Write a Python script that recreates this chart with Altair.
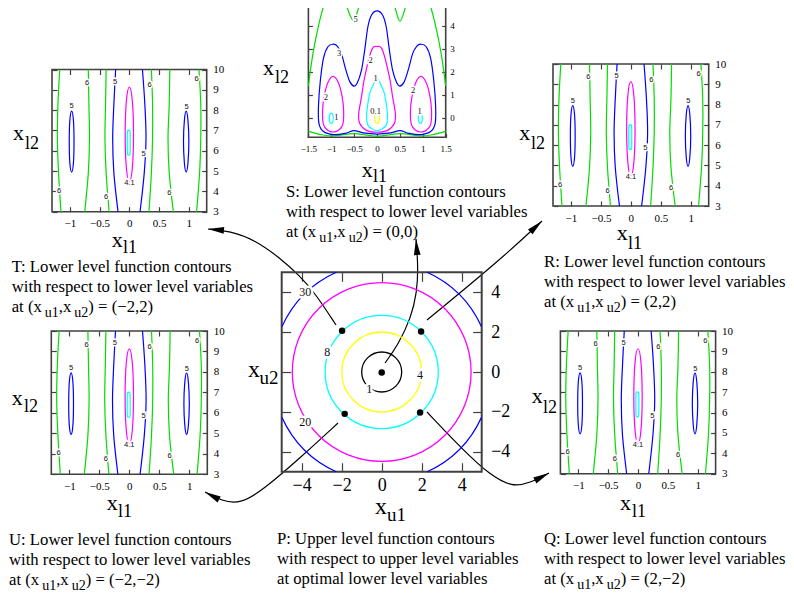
import math
import altair as alt
import pandas as pd

M = 8
W, H = 778, 584
SERIF = "Liberation Serif"
SANS = "Liberation Sans"
BLUE, GREEN, MAGENTA, CYAN, YELLOW = "#0000ff", "#00dd00", "#ff00ff", "#00ffff", "#ffff00"
FRAME = "#404040"

# ---------------- P : upper level contours ----------------
P_LEVELS = ["1", "4", "8", "20", "30"]
P_RADII = [1.0, 2.0, 2.83, 4.47, 5.48]
P_COLORS = ["black", YELLOW, CYAN, MAGENTA, BLUE]
P_SPANS = [[(0, 360)], [(0, 360)], [(0, 360)], [(0, 360)],
           [(24.5, 65.5), (114.5, 155.5), (204.5, 245.5), (294.5, 335.5)]]
P_LABEL_X = [-0.62, 1.92, -2.72, -3.82, -3.82]
P_LABEL_Y = [-0.84, -0.13, 1.02, -2.49, 4.02]
P_DOT_X = [-1.98, 1.97, 0.0, -1.85, 1.92]
P_DOT_Y = [2.07, 2.03, -0.03, -2.10, -2.03]

# ---------------- T, R, U, Q : lower level contours (x_u != 0) ----------------
LL_Y_OPEN = [10.0, 8.3, 6.6, 4.9, 3.0]
LL_GREEN_X = [[-1.17, -1.20, -1.21, -1.19, -1.15],
              [-0.69, -0.68, -0.67, -0.69, -0.75],
              [-0.39, -0.40, -0.41, -0.39, -0.34],
              [0.37, 0.39, 0.39, 0.37, 0.33],
              [0.68, 0.67, 0.65, 0.67, 0.74],
              [1.17, 1.20, 1.20, 1.18, 1.13]]
LL_BLUE_X = [[-0.23, -0.26, -0.28, -0.26, -0.19],
             [0.22, 0.26, 0.28, 0.25, 0.18]]
LL_BLUE_L_X = [-0.97, -0.94, -0.93, -0.94, -0.97, -1.00, -1.01, -1.00]
LL_BLUE_R_X = [0.955, 0.985, 1.00, 0.985, 0.955, 0.925, 0.91, 0.925]
LL_BLUE_E_Y = [7.95, 7.5, 6.45, 5.4, 4.95, 5.4, 6.45, 7.5]
LL_MAG_X = [0.0, 0.05, 0.07, 0.05, 0.0, -0.05, -0.07, -0.05]
LL_MAG_Y = [9.13, 8.45, 6.8, 5.15, 4.47, 5.15, 6.8, 8.45]
LL_CYAN_X = [-0.01, 0.012, 0.015, 0.012, -0.01, -0.032, -0.035, -0.032]
LL_CYAN_Y = [7.0, 6.95, 6.4, 5.85, 5.8, 5.85, 6.4, 6.95]
LL_LABEL_T = ["6", "6", "6", "6", "6", "6", "5", "5", "5", "5", "4.1"]
LL_LABEL_X = [-0.71, 0.34, 1.13, -1.18, -0.39, 0.67, -0.24, 0.24, -0.97, 0.96, 0.0]
LL_LABEL_Y = [9.34, 9.22, 9.51, 4.04, 3.74, 3.91, 9.39, 5.85, 8.19, 8.16, 4.43]

# ---------------- S : lower level contours at (0,0) ----------------
S_YELLOW_X = [0.0, 0.04, 0.058, 0.04, 0.0, -0.04, -0.058, -0.04]
S_YELLOW_Y = [0.34, 0.26, 0.05, -0.16, -0.24, -0.16, 0.05, 0.26]
S_CYAN_MID_X = [0.0, 0.07, 0.16, 0.21, 0.23, 0.20, 0.10, 0.0, -0.10, -0.20, -0.23, -0.21, -0.16, -0.07]
S_CYAN_MID_Y = [1.72, 1.49, 1.06, 0.48, 0.04, -0.32, -0.50, -0.56, -0.50, -0.32, 0.04, 0.48, 1.06, 1.49]
S_CYAN_L_X = [-1.0, -0.968, -0.955, -0.968, -1.0, -1.032, -1.045, -1.032]
S_CYAN_R_X = [0.945, 0.977, 0.99, 0.977, 0.945, 0.913, 0.90, 0.913]
S_CYAN_E_Y = [0.20, 0.14, -0.02, -0.18, -0.24, -0.18, -0.02, 0.14]
S_MAG_MID_X = [0.0, 0.12, 0.27, 0.34, 0.40, 0.38, 0.23, 0.0, -0.23, -0.38, -0.40, -0.34, -0.27, -0.12]
S_MAG_MID_Y = [3.10, 2.94, 1.78, 0.91, 0.19, -0.24, -0.55, -0.63, -0.55, -0.24, 0.19, 0.91, 1.78, 2.94]
S_MAG_L_X = [-0.96, -0.85, -0.77, -0.73, -0.75, -0.85, -0.96, -1.07, -1.17, -1.19, -1.15, -1.07]
S_MAG_R_X = [0.96, 1.07, 1.15, 1.19, 1.17, 1.07, 0.96, 0.85, 0.75, 0.73, 0.77, 0.85]
S_MAG_SIDE_Y = [1.80, 1.55, 1.00, 0.33, -0.30, -0.55, -0.62, -0.55, -0.30, 0.33, 1.00, 1.55]
S_BLUE_X = [0.0, -0.12, -0.20, -0.27, -0.34, -0.43, -0.50, -0.59, -0.68, -0.78, -0.87, -0.96, -1.07,
            -1.17, -1.24, -1.28, -1.27, -1.17, -0.96, -0.70, -0.50, -0.30, 0.0, 0.30, 0.50, 0.70,
            0.96, 1.17, 1.27, 1.28, 1.24, 1.17, 1.07, 0.96, 0.87, 0.78, 0.68, 0.59, 0.50, 0.43,
            0.34, 0.27, 0.20, 0.12]
S_BLUE_Y = [4.65, 4.47, 3.96, 2.94, 2.07, 1.52, 1.38, 1.55, 2.07, 2.80, 3.12, 3.20, 3.10,
            2.60, 1.60, 0.50, -0.24, -0.60, -0.73, -0.68, -0.56, -0.66, -0.71, -0.66, -0.56, -0.68,
            -0.73, -0.60, -0.24, 0.50, 1.60, 2.60, 3.10, 3.20, 3.12, 2.80, 2.07, 1.55, 1.38, 1.52,
            2.07, 2.94, 3.96, 4.47]
S_GREEN_OPEN = [
    ([-1.50, -1.40, -1.27, -1.14], [1.38, 2.80, 4.09, 5.05]),
    ([1.50, 1.40, 1.27, 1.14], [1.38, 2.80, 4.09, 5.05]),
    ([-0.68, -0.62, -0.52, -0.43, -0.38], [5.05, 4.60, 4.25, 4.60, 5.05]),
    ([0.37, 0.42, 0.50, 0.59, 0.64], [5.05, 4.60, 4.20, 4.60, 5.05]),
    ([-1.50, -1.25, -0.96, -0.50, 0.0, 0.50, 0.96, 1.25, 1.50],
     [-0.59, -0.72, -0.79, -0.69, -0.80, -0.69, -0.79, -0.72, -0.59]),
]
S_LABEL_T = ["5", "3", "2", "2", "2", "1", "1", "1", "0.1"]
S_LABEL_X = [-0.47, -0.83, -0.14, -1.12, 0.79, -0.03, -0.89, 0.93, -0.03]
S_LABEL_Y = [4.28, 2.80, 2.51, 0.91, 1.20, 1.71, 0.04, 0.29, 0.29]

# ---------------- arrows (page pixel positions) ----------------
ARROWS = [
    [(336, 325), (315, 293), (300, 276), (280, 258), (255, 240), (230, 231), (208, 229)],
    [(385, 363), (398, 345), (411, 318), (417, 292), (418, 268), (417, 252), (416, 239)],
    [(427, 320), (500, 260), (542, 221)],
    [(338, 423), (300, 458), (263, 490), (240, 504), (222, 501), (205, 492)],
    [(427, 412), (463, 450), (490, 475), (512, 487), (530, 483), (549, 473)],
]

# ---------------- captions ----------------
CAPTIONS = [
    (11.7, 272.3, ["T: Lower level function contours", "with respect to lower level variables"], "(\u22122,2)"),
    (286.0, 197.3, ["S: Lower level function contours", "with respect to lower level variables"], "(0,0)"),
    (544.0, 267.3, ["R: Lower level function contours", "with respect to lower level variables"], "(2,2)"),
    (9.0, 545.0, ["U: Lower level function contours", "with respect to lower level variables"], "(\u22122,\u22122)"),
    (277.0, 544.0, ["P: Upper level function contours", "with respect to upper level variables",
                    "at optimal lower level variables"], None),
    (544.0, 544.0, ["Q: Lower level function contours", "with respect to lower level variables"], "(2,\u22122)"),
]
# axis titles: (x of "x", baseline, subscript, x of subscript, sub baseline, main size, sub size)
TITLES = [
    (13.0, 140.0, "l2", 25.0, 149.0, 22, 18), (111.7, 246.7, "l1", 123.0, 253.0, 22, 18),
    (519.3, 140.0, "l2", 531.0, 149.0, 22, 18), (616.7, 240.0, "l1", 628.0, 249.0, 22, 18),
    (11.7, 405.0, "l2", 24.0, 412.0, 22, 18), (106.7, 510.0, "l1", 118.0, 517.0, 22, 18),
    (531.7, 403.3, "l2", 543.0, 413.0, 22, 18), (620.0, 510.0, "l1", 632.0, 517.0, 22, 18),
    (263.0, 75.0, "l2", 275.0, 83.0, 22, 18), (361.7, 176.7, "l1", 373.0, 182.0, 22, 18),
    (248.0, 377.0, "u2", 259.5, 384.0, 24, 19), (375.0, 514.0, "u1", 387.0, 521.0, 24, 19),
]

TW = {' ': 250, 'a': 444, 't': 278, '(': 333, ')': 333, 'x': 500, 'u': 500, ',': 250,
      '=': 564, '0': 500, '1': 500, '2': 500, '\u2212': 564}


def tw(s, fs):
    return sum(TW.get(c, 500) for c in s) * fs / 1000.0


PX = alt.Scale(domain=[M, M + W], range=[0, W], nice=False, zero=False)
PY = alt.Scale(domain=[M, M + H], range=[0, H], nice=False, zero=False)


def curves_df(curves):
    rows = []
    for cid, (col, xs, ys) in enumerate(curves):
        for i, (x, y) in enumerate(zip(xs, ys)):
            rows.append(dict(cid=cid, o=i, x=x, y=y, col=col))
    return pd.DataFrame(rows)


def scales(box, xdom, ydom):
    l, t, r, b = box
    xs = alt.Scale(domain=xdom, range=[l - M, r - M], nice=False, zero=False)
    ys = alt.Scale(domain=ydom, range=[b - M, t - M], nice=False, zero=False)
    return xs, ys


def axes(box, xticks, yticks, ts, fs, lpx, lpy, xfmt="~g", yfmt="d"):
    l, t, r, b = [v - M for v in box]
    common = dict(domain=False, grid=False, tickSize=ts, tickColor=FRAME, tickWidth=1.2, title=None,
                  labelFont=SERIF, labelFontSize=fs, labelColor="black", labelFlush=False,
                  labelOverlap=False)
    ab = alt.Axis(orient="bottom", offset=b - ts - H, values=xticks, labelPadding=lpx, format=xfmt, **common)
    ar = alt.Axis(orient="right", offset=r - ts - W, values=yticks, labelPadding=lpy, format=yfmt,
                  labelAlign="left", labelBaseline="middle", **common)
    at = alt.Axis(orient="top", offset=-(t + ts), values=xticks, labels=False, **common)
    al = alt.Axis(orient="left", offset=-(l + ts), values=yticks, labels=False, **common)
    return ab, ar, at, al


def frame_layer(xdom, ydom, xs, ys, ab, ar, fw):
    df = pd.DataFrame({"x0": [xdom[0]], "x1": [xdom[1]], "y0": [ydom[0]], "y1": [ydom[1]]})
    return alt.Chart(df).mark_rect(fillOpacity=0, stroke=FRAME, strokeWidth=fw).encode(
        x=alt.X("x0:Q", scale=xs, axis=ab), x2="x1:Q",
        y=alt.Y("y0:Q", scale=ys, axis=ar), y2="y1:Q")


def line_layer(curves, xs, ys, interp, ax=None, ay=None, sw=1.2):
    return alt.Chart(curves_df(curves)).mark_line(interpolate=interp, strokeWidth=sw).encode(
        x=alt.X("x:Q", scale=xs, axis=ax), y=alt.Y("y:Q", scale=ys, axis=ay),
        detail="cid:N", order=alt.Order("o:Q"), color=alt.Color("col:N", scale=None))


def label_layers(texts, lx, ly, xs, ys, font, fs, halo):
    df = pd.DataFrame({"t": texts, "x": lx, "y": ly})
    base = alt.Chart(df).encode(x=alt.X("x:Q", scale=xs, axis=None),
                                y=alt.Y("y:Q", scale=ys, axis=None), text="t:N")
    h = base.mark_text(font=font, fontSize=fs, fill="white", stroke="white", strokeWidth=halo,
                       align="center", baseline="middle")
    t = base.mark_text(font=font, fontSize=fs, fill="#111111", align="center", baseline="middle")
    return [h, t]


def small_panel(box):
    xdom, ydom = [-1.3, 1.3], [3, 10]
    xs, ys = scales(box, xdom, ydom)
    ab, ar, at, al = axes(box, [-1, -0.5, 0, 0.5, 1], [3, 4, 5, 6, 7, 8, 9, 10], 5, 11, 6, 6)
    open_c = [(GREEN, gx, LL_Y_OPEN) for gx in LL_GREEN_X] + [(BLUE, bx, LL_Y_OPEN) for bx in LL_BLUE_X]
    closed_c = [(BLUE, LL_BLUE_L_X, LL_BLUE_E_Y), (BLUE, LL_BLUE_R_X, LL_BLUE_E_Y),
                (MAGENTA, LL_MAG_X, LL_MAG_Y), (CYAN, LL_CYAN_X, LL_CYAN_Y)]
    layers = [frame_layer(xdom, ydom, xs, ys, ab, ar, 1.6),
              line_layer(open_c, xs, ys, "cardinal", at, al),
              line_layer(closed_c, xs, ys, "cardinal-closed")]
    layers += label_layers(LL_LABEL_T, LL_LABEL_X, LL_LABEL_Y, xs, ys, SANS, 7.5, 3)
    return alt.layer(*layers).resolve_axis(x="independent", y="independent")


def s_panel():
    box = (308.4, 1.7, 445.7, 137.3)
    xdom, ydom = [-1.5, 1.5], [-0.85, 5.05]
    xs, ys = scales(box, xdom, ydom)
    ab, ar, at, al = axes(box, [-1.5, -1, -0.5, 0, 0.5, 1, 1.5], [0, 1, 2, 3, 4, 5], 4, 9, 7, 4)
    open_c = [(GREEN, gx, gy) for gx, gy in S_GREEN_OPEN]
    closed_c = [(BLUE, S_BLUE_X, S_BLUE_Y),
                (MAGENTA, S_MAG_MID_X, S_MAG_MID_Y), (MAGENTA, S_MAG_L_X, S_MAG_SIDE_Y),
                (MAGENTA, S_MAG_R_X, S_MAG_SIDE_Y),
                (CYAN, S_CYAN_MID_X, S_CYAN_MID_Y), (CYAN, S_CYAN_L_X, S_CYAN_E_Y),
                (CYAN, S_CYAN_R_X, S_CYAN_E_Y), (YELLOW, S_YELLOW_X, S_YELLOW_Y)]
    layers = [frame_layer(xdom, ydom, xs, ys, ab, ar, 1.6),
              line_layer(open_c, xs, ys, "cardinal", at, al),
              line_layer(closed_c, xs, ys, "cardinal-closed")]
    layers += label_layers(S_LABEL_T, S_LABEL_X, S_LABEL_Y, xs, ys, SERIF, 8.5, 3)
    return alt.layer(*layers).resolve_axis(x="independent", y="independent")


def p_panel():
    box = (281.7, 272.3, 481.7, 471.7)
    xdom, ydom = [-5, 5], [-5, 5]
    xs, ys = scales(box, xdom, ydom)
    ab, ar, at, al = axes(box, [-4, -2, 0, 2, 4], [-4, -2, 0, 2, 4], 9, 18, 5, 9, xfmt="d")
    rows = []
    for r, col, spans in zip(P_RADII, P_COLORS, P_SPANS):
        for a0, a1 in spans:
            rows.append(dict(cx=0.0, cy=0.0, r=r, t0=math.radians(a0), t1=math.radians(a1), col=col))
    arcs = alt.Chart(pd.DataFrame(rows)).mark_arc(filled=False, strokeWidth=1.3).encode(
        x=alt.X("cx:Q", scale=xs, axis=None), y=alt.Y("cy:Q", scale=ys, axis=None),
        theta=alt.Theta("t0:Q", scale=None, stack=None), theta2="t1:Q",
        radius=alt.Radius("r:Q", scale=alt.Scale(type="linear", domain=[0, 5], range=[0, 100], zero=True)),
        radius2="r:Q", stroke=alt.Stroke("col:N", scale=None))
    dots = alt.Chart(pd.DataFrame({"x": P_DOT_X, "y": P_DOT_Y})).mark_circle(size=42, color="black", opacity=1).encode(
        x=alt.X("x:Q", scale=xs, axis=at), y=alt.Y("y:Q", scale=ys, axis=al))
    layers = [frame_layer(xdom, ydom, xs, ys, ab, ar, 2.0), arcs]
    layers += label_layers(P_LEVELS, P_LABEL_X, P_LABEL_Y, xs, ys, SERIF, 12, 5)
    layers.append(dots)
    return alt.layer(*layers).resolve_axis(x="independent", y="independent")


# ---- page level: arrows ----
arow, heads = [], []
HL = 16.0
for aid, pts in enumerate(ARROWS):
    for i, (x, y) in enumerate(pts):
        arow.append(dict(aid=aid, o=i, x=x, y=y))
    (x1, y1), (x2, y2) = pts[-2], pts[-1]
    dx, dy = x2 - x1, y2 - y1
    n = math.hypot(dx, dy)
    ux, uy = dx / n, dy / n
    ang = math.degrees(math.atan2(dx, -dy)) % 360
    heads.append(dict(x=x2 - ux * HL / 2, y=y2 - uy * HL / 2, ang=ang))

arrow_lines = alt.Chart(pd.DataFrame(arow)).mark_line(interpolate="basis", color="black", strokeWidth=1.2).encode(
    x=alt.X("x:Q", scale=PX, axis=None), y=alt.Y("y:Q", scale=PY, axis=None),
    detail="aid:N", order=alt.Order("o:Q"))
arrow_heads = alt.Chart(pd.DataFrame(heads)).mark_point(
    shape="M0,-1L0.42,1L-0.42,1Z", filled=True, color="black", opacity=1, size=HL * HL).encode(
    x=alt.X("x:Q", scale=PX, axis=None), y=alt.Y("y:Q", scale=PY, axis=None),
    angle=alt.Angle("ang:Q", scale=None))
page_arrows = alt.layer(arrow_lines, arrow_heads)

# ---- page level: captions and axis titles ----
CAP_FS, SUB_FS = 16.7, 14
trows = []
for x0, y0, lines, coord in CAPTIONS:
    for i, line in enumerate(lines):
        trows.append(dict(x=x0, y=y0 + 20 * i, t=line, fs=CAP_FS))
    if coord is not None:
        y = y0 + 20 * len(lines)
        cx = x0
        for seg, sub in [("at (x", False), ("u1", True), (",x", False), ("u2", True), (") = " + coord, False)]:
            fs = SUB_FS if sub else CAP_FS
            if sub:
                cx += 3
            trows.append(dict(x=cx, y=y + (5 if sub else 0), t=seg, fs=fs))
            cx += tw(seg, fs)
for xx, yb, sub, xs_, ysb, fm, fsub in TITLES:
    trows.append(dict(x=xx, y=yb, t="x", fs=fm))
    trows.append(dict(x=xs_, y=ysb, t=sub, fs=fsub))

page_text = alt.Chart(pd.DataFrame(trows)).mark_text(
    font=SERIF, align="left", baseline="alphabetic", color="black").encode(
    x=alt.X("x:Q", scale=PX, axis=None), y=alt.Y("y:Q", scale=PY, axis=None),
    text="t:N", size=alt.Size("fs:Q", scale=None))

T_BOX = (52.0, 69.5, 206.7, 211.7)
R_BOX = (553.0, 64.0, 708.7, 206.0)
U_BOX = (51.3, 331.0, 207.3, 474.3)
Q_BOX = (560.4, 331.0, 715.6, 473.7)

chart = alt.layer(
    page_arrows,
    small_panel(T_BOX), s_panel(), small_panel(R_BOX),
    small_panel(U_BOX), p_panel(), small_panel(Q_BOX),
    page_text,
).resolve_scale(x="independent", y="independent").properties(
    width=W, height=H, padding=0, autosize=alt.AutoSizeParams(type="none")
).configure_view(stroke=None)

chart.save("out.html", embed_options={"renderer": "svg", "actions": False})
